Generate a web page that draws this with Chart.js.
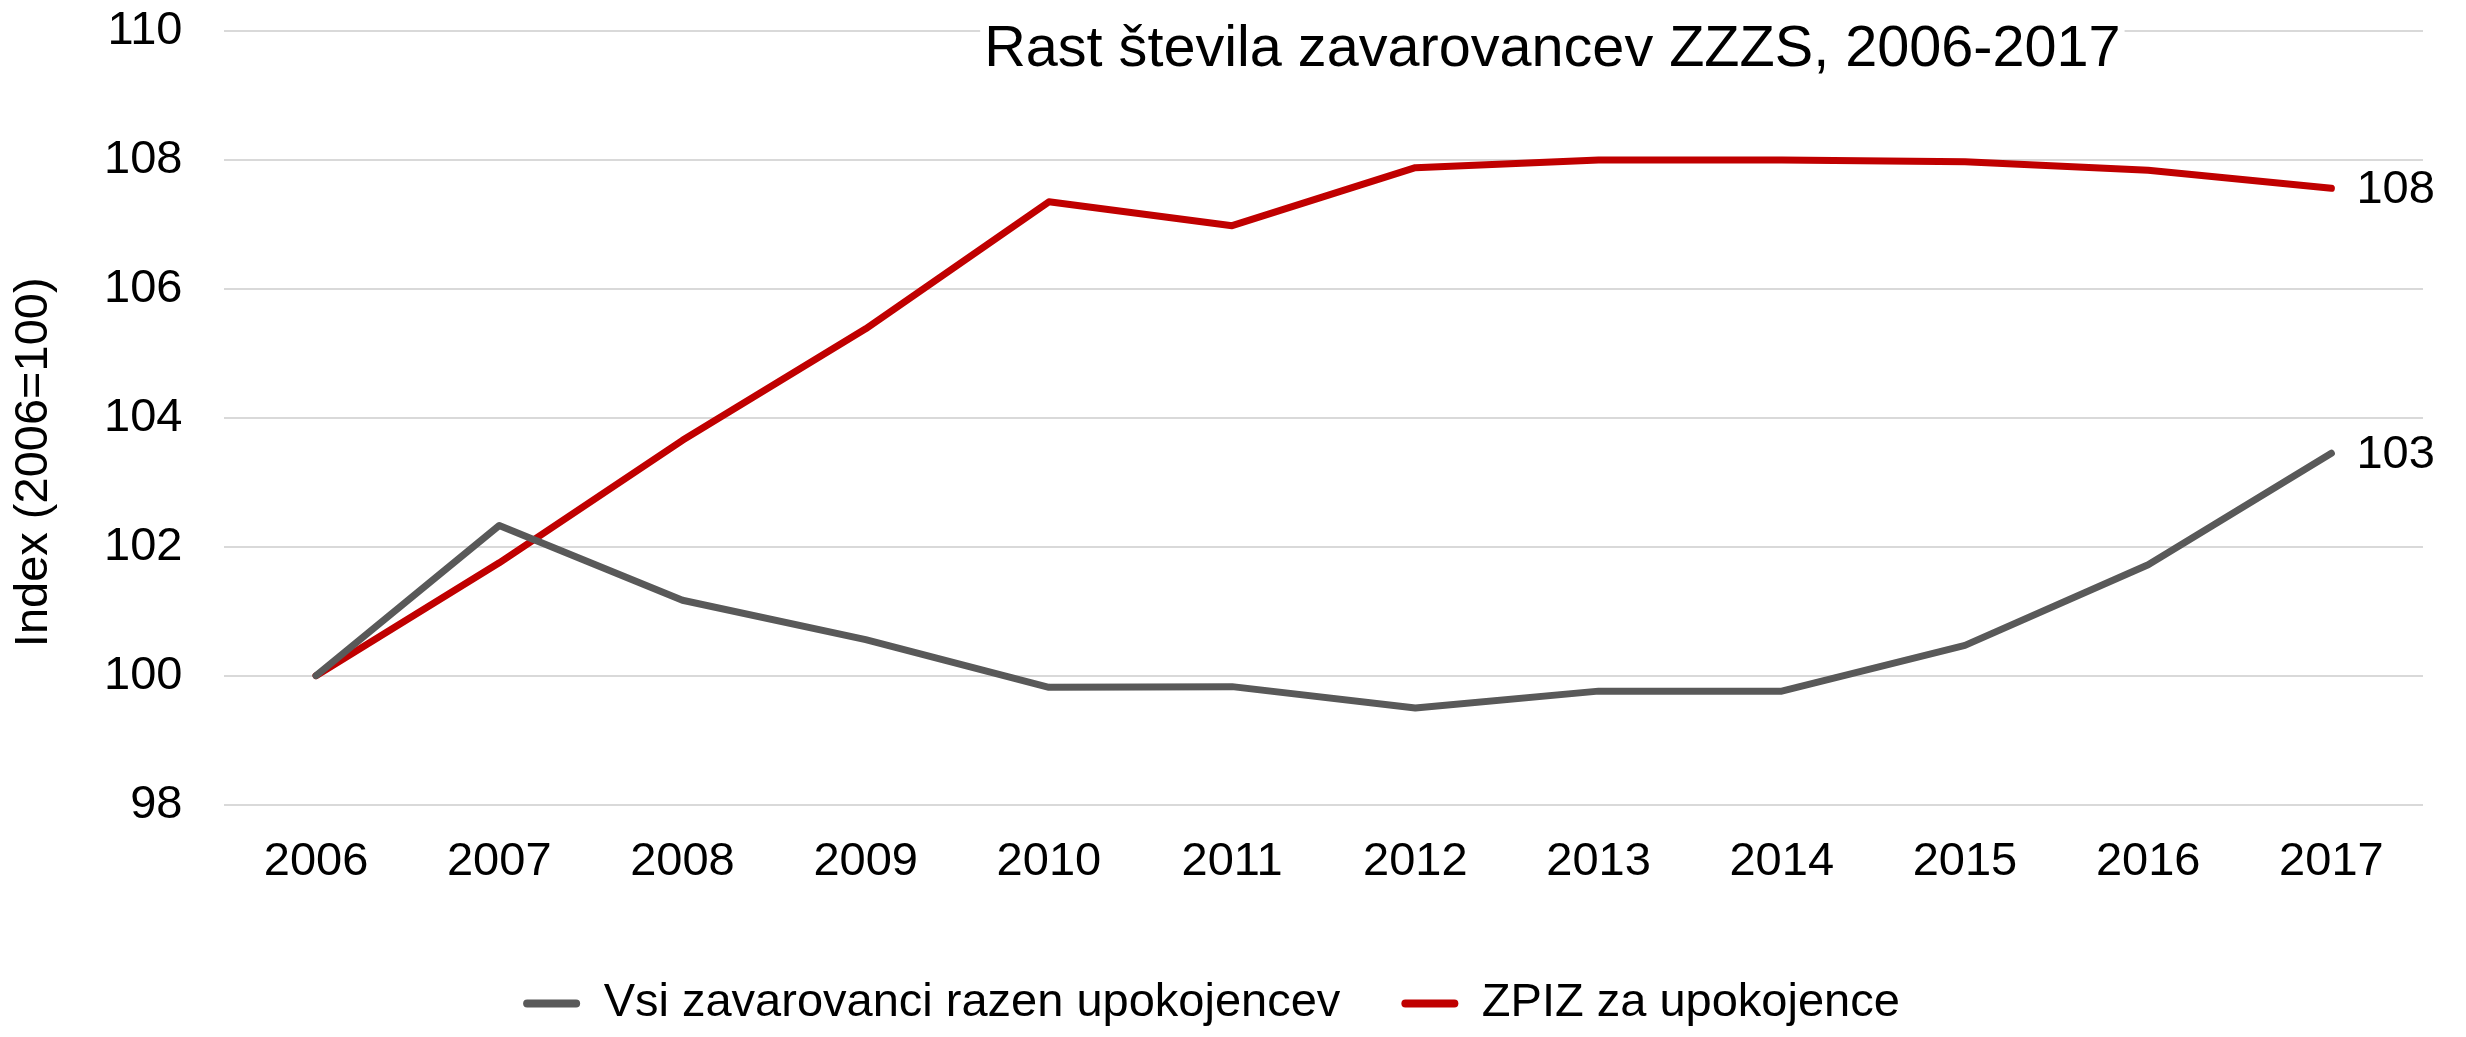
<!DOCTYPE html>
<html>
<head>
<meta charset="utf-8">
<script src="https://cdn.jsdelivr.net/npm/chart.js@4/dist/chart.umd.min.js"></script>
<style>
html, body { margin: 0; padding: 0; background: #ffffff; }
canvas { display: block; }
</style>
</head>
<body>
<canvas id="c" width="2466" height="1037"></canvas>
<script>
// ---- data ----
const years = ['2006', '2007', '2008', '2009', '2010', '2011', '2012', '2013', '2014', '2015', '2016', '2017'];
const seriesNames = ['Vsi zavarovanci razen upokojencev', 'ZPIZ za upokojence'];
const allInsured = [100, 102.33, 101.17, 100.56, 99.82, 99.83, 99.50, 99.76, 99.76, 100.47, 101.72, 103.45];
const pensioners = [100, 101.75, 103.65, 105.38, 107.35, 106.98, 107.88, 108.00, 108.00, 107.97, 107.84, 107.56];
const yTicks = [98, 100, 102, 104, 106, 108, 110];
const chartTitle = 'Rast števila zavarovancev ZZZS, 2006-2017';
const yAxisTitle = 'Index (2006=100)';

// ---- styles ----
const FONT = '"Liberation Sans", Arial, Helvetica, sans-serif';
const GRAY = '#595959';
const RED = '#C00000';

const overlayTitle = {
  id: 'overlayTitle',
  afterDraw(chart) {
    const { ctx, chartArea } = chart;
    ctx.save();
    ctx.font = '57.6px ' + FONT;
    const w = ctx.measureText(chartTitle).width;
    const cx = chartArea.left + (chartArea.right - chartArea.left) * 0.604;
    const baseY = chartArea.top + 35;
    ctx.fillStyle = '#ffffff';
    ctx.fillRect(cx - w / 2 - 4, chartArea.top - 20, w + 8, 75);
    ctx.fillStyle = '#000000';
    ctx.textAlign = 'center';
    ctx.textBaseline = 'alphabetic';
    ctx.fillText(chartTitle, cx, baseY);
    ctx.restore();
  }
};

const yTitle = {
  id: 'yTitle',
  afterDraw(chart) {
    const { ctx, chartArea } = chart;
    ctx.save();
    ctx.font = '47px ' + FONT;
    ctx.fillStyle = '#000000';
    ctx.textAlign = 'center';
    ctx.textBaseline = 'middle';
    ctx.translate(chartArea.left - 190, chartArea.top + (chartArea.bottom - chartArea.top) * 0.5575);
    ctx.rotate(-Math.PI / 2);
    ctx.fillText(yAxisTitle, 0, 0);
    ctx.restore();
  }
};

const endLabels = {
  id: 'endLabels',
  afterDatasetsDraw(chart) {
    const { ctx } = chart;
    ctx.save();
    ctx.font = '47px ' + FONT;
    ctx.fillStyle = '#000000';
    ctx.textAlign = 'left';
    ctx.textBaseline = 'middle';
    chart.data.datasets.forEach((ds, i) => {
      const meta = chart.getDatasetMeta(i);
      const last = meta.data.length - 1;
      const pt = meta.data[last];
      ctx.fillText(String(Math.round(ds.data[last])), pt.x + 25, pt.y + 2);
    });
    ctx.restore();
  }
};

new Chart(document.getElementById('c'), {
  type: 'line',
  data: {
    labels: years,
    datasets: [
      {
        label: seriesNames[0],
        data: allInsured,
        borderColor: GRAY,
        backgroundColor: GRAY,
        borderWidth: 7,
        pointRadius: 0,
        tension: 0,
        borderCapStyle: 'round',
        borderJoinStyle: 'round',
        fill: false
      },
      {
        label: seriesNames[1],
        data: pensioners,
        borderColor: RED,
        backgroundColor: RED,
        borderWidth: 7,
        pointRadius: 0,
        tension: 0,
        borderCapStyle: 'round',
        borderJoinStyle: 'round',
        fill: false
      }
    ]
  },
  options: {
    responsive: false,
    animation: false,
    devicePixelRatio: 1,
    layout: { padding: { top: 31, right: 43, left: 0, bottom: 0 } },
    plugins: {
      title: { display: false },
      tooltip: { enabled: false },
      legend: {
        display: true,
        position: 'bottom',
        labels: {
          font: { family: FONT, size: 47 },
          color: '#000000',
          boxWidth: 57,
          boxHeight: 8,
          padding: 61,
          generateLabels: (chart) => chart.data.datasets.map((ds, i) => ({
            text: ds.label,
            fillStyle: ds.borderColor,
            strokeStyle: ds.borderColor,
            lineWidth: 0,
            borderRadius: 4,
            hidden: false,
            datasetIndex: i,
            fontColor: '#000000'
          }))
        }
      }
    },
    scales: {
      x: {
        offset: true,
        grid: { display: false, drawTicks: false },
        border: { display: false },
        ticks: {
          color: '#000000',
          font: { family: FONT, size: 47 },
          padding: 29,
          maxRotation: 0,
          autoSkip: false
        }
      },
      y: {
        min: yTicks[0],
        max: yTicks[yTicks.length - 1],
        afterFit: (scale) => { scale.paddingTop = 0; scale.width += 62; },
        grid: { color: '#D9D9D9', lineWidth: 2, drawTicks: false },
        border: { display: false },
        ticks: {
          stepSize: yTicks[1] - yTicks[0],
          color: '#000000',
          font: { family: FONT, size: 47 },
          padding: 42
        },
        title: { display: false }
      }
    }
  },
  plugins: [endLabels, overlayTitle, yTitle]
});
</script>
</body>
</html>
